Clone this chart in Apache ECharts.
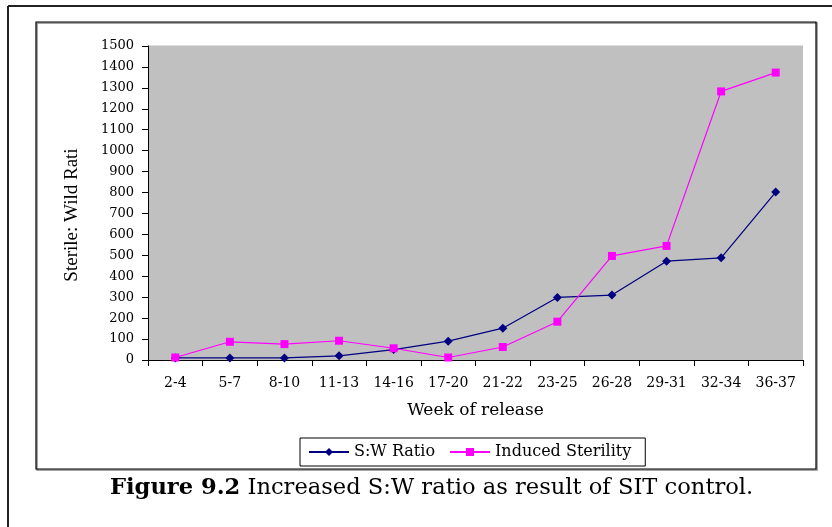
<!DOCTYPE html>
<html><head><meta charset="utf-8">
<script src="https://cdn.jsdelivr.net/npm/echarts@6/dist/echarts.min.js"></script>
<style>html,body{margin:0;padding:0;background:#fff}#c{width:832px;height:527px}</style>
</head><body><div id="c"></div>
<script>
const categories = ['2-4','5-7','8-10','11-13','14-16','17-20','21-22','23-25','26-28','29-31','32-34','36-37'];
const swRatio = [10, 10, 10, 20, 50, 90, 152, 299, 310, 472, 488, 802];
const inducedSterility = [12, 87, 76, 92, 56, 12, 62, 183, 497, 545, 1283, 1373];
const yTicks = {min: 0, max: 1500, interval: 100};

const chart = echarts.init(document.getElementById('c'), null, {renderer: 'canvas'});
const font = '"DejaVu Serif", serif';
const tfont = '"Liberation Serif", "Times New Roman", serif';
chart.setOption({
  animation: false,
  backgroundColor: '#fff',
  grid: {left: 148, top: 46, right: 29, bottom: 167, show: true, backgroundColor: '#C0C0C0', borderWidth: 0},
  xAxis: {
    type: 'category', data: categories, boundaryGap: true,
    name: 'Week of release', nameLocation: 'middle', nameGap: 42,
    nameTextStyle: {fontFamily: font, fontSize: 17, color: '#000'},
    axisLine: {lineStyle: {color: '#000', width: 1}},
    axisTick: {show: true, length: 6, alignWithLabel: false, lineStyle: {color: '#000'}},
    axisLabel: {fontFamily: font, fontSize: 14, color: '#000', margin: 16, interval: 0},
    splitLine: {show: false}
  },
  yAxis: {
    type: 'value', min: yTicks.min, max: yTicks.max, interval: yTicks.interval,
    name: 'Sterile: Wild Rati', nameLocation: 'middle', nameGap: 66, nameRotate: 90,
    nameTextStyle: {fontFamily: tfont, fontSize: 19, color: '#000', padding: [0, 0, 0, -24]},
    axisLine: {show: true, lineStyle: {color: '#000', width: 1}},
    axisTick: {show: true, length: 6, lineStyle: {color: '#000'}},
    axisLabel: {fontFamily: font, fontSize: 13, color: '#000', margin: 14, formatter: v => String(v)},
    splitLine: {show: false}
  },
  legend: {
    left: 300, top: 438,
    padding: [6, 14, 6, 8], itemGap: 14, itemWidth: 40, itemHeight: 10,
    borderColor: '#000', borderWidth: 1, backgroundColor: '#fff',
    textStyle: {fontFamily: font, fontSize: 16, color: '#000'},
    data: [{name: 'S:W Ratio'}, {name: 'Induced Sterility'}]
  },
  series: [
    {name: 'S:W Ratio', type: 'line', data: swRatio, symbol: 'diamond', symbolSize: 9,
     itemStyle: {color: '#000080'}, lineStyle: {color: '#000080', width: 1.2}},
    {name: 'Induced Sterility', type: 'line', data: inducedSterility, symbol: 'rect', symbolSize: 8,
     itemStyle: {color: '#FF00FF'}, lineStyle: {color: '#FF00FF', width: 1.2}}
  ],
  graphic: [
    {type: 'line', shape: {x1: 8, y1: 6, x2: 832, y2: 6}, style: {stroke: '#222', lineWidth: 2}},
    {type: 'line', shape: {x1: 8, y1: 6, x2: 8, y2: 527}, style: {stroke: '#222', lineWidth: 2}},
    {type: 'rect', shape: {x: 37, y: 23, width: 780, height: 447}, style: {fill: 'none', stroke: '#888', lineWidth: 1.5}},
    {type: 'rect', shape: {x: 36, y: 22, width: 780, height: 447}, style: {fill: 'none', stroke: '#000', lineWidth: 1.2}},
    {type: 'line', shape: {x1: 148, y1: 45.5, x2: 803, y2: 45.5}, style: {stroke: '#dcdcdc', lineWidth: 1}},
    {type: 'text', left: 110, top: 477, style: {
      text: '{b|Figure 9.2} Increased S:W ratio as result of SIT control.',
      rich: {b: {fontFamily: font, fontSize: 22.6, fontWeight: 'bold', fill: '#000'}},
      font: '22.6px "DejaVu Serif", serif', fill: '#000'
    }}
  ]
});
</script>
</body></html>
